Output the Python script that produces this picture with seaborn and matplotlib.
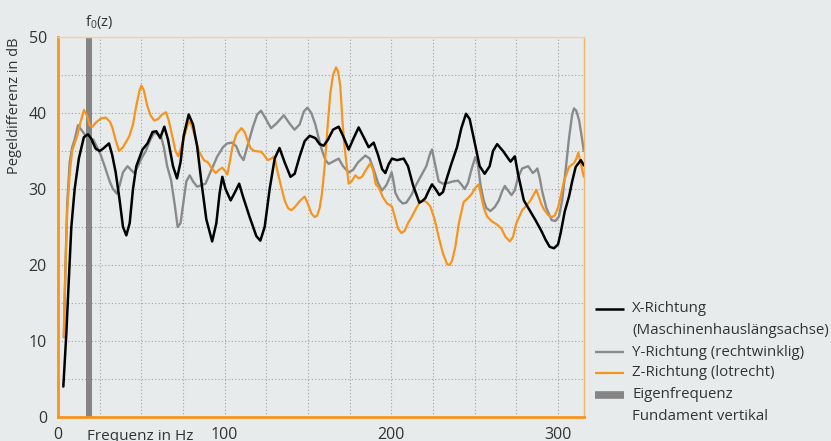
import matplotlib
matplotlib.use("Agg")
import matplotlib.pyplot as plt
from matplotlib.lines import Line2D
import numpy as np
import pandas as pd
import seaborn as sns

# Frequency axis values (Hz) and level differences (dB)
x_freq = [3.2, 5, 6.2, 8, 10, 12.5, 15.5, 18, 20, 22.6, 25, 27, 30.6, 32.5, 34.6, 37, 39, 41, 43, 45,
          47, 50.7, 53.7, 56.7, 59, 61.3, 63.8, 66, 69, 71.4, 73.5, 75.4, 78.4, 81, 83.5, 86, 89, 92.5,
          95, 97, 98.6, 100.5, 103.6, 106, 108.7, 111, 115, 119, 121.4, 124, 127, 130, 132.9, 136,
          139.5, 142, 145, 148, 151, 154.4, 157, 159.4, 162, 165, 168.4, 171, 174.4, 177, 180.4, 183,
          186.4, 189.4, 192, 194.5, 196.4, 198.5, 200.4, 203.4, 207.4, 210, 213, 216.8, 218.5, 220.4,
          222.5, 224.4, 226.5, 228.8, 231, 233, 236, 239.4, 242, 244.8, 247, 250.4, 253, 256, 259, 261,
          263.5, 267, 271.5, 274.1, 276, 279.5, 283, 286.5, 290, 292.6, 295, 297.6, 300, 301.6, 304,
          306.6, 308.5, 310.6, 313.7, 315.5]
x_db = [4, 11, 16.7, 25, 30, 34, 36.8, 37.2, 36.6, 35.3, 35.0, 35.3, 36.0, 34.5, 32.2, 28.5, 25, 23.9,
        25.5, 30, 33, 35.2, 36, 37.5, 37.6, 36.7, 38.2, 36.5, 33, 31.4, 33.5, 37, 39.8, 38.5, 35.6, 31,
        26, 23.1, 25.5, 29.5, 31.6, 30, 28.5, 29.5, 30.7, 29, 26.3, 23.8, 23.2, 25, 30, 34, 35.4, 33.5,
        31.6, 32, 34.3, 36.3, 37, 36.7, 35.9, 35.7, 36.5, 37.8, 38.2, 37, 35.2, 36.5, 38.1, 37, 35.5,
        36.1, 34.5, 32.6, 32.1, 33.3, 34, 33.8, 34, 33, 30.5, 28.2, 28.4, 28.8, 29.8, 30.6, 30, 29.2,
        29.6, 31.2, 33.3, 35.5, 38, 39.9, 39.2, 35.7, 33, 32, 33, 35, 35.9, 35, 33.6, 34.3, 32, 28.5,
        27.2, 25.9, 24.5, 23.3, 22.4, 22.2, 22.7, 24.2, 27, 29, 31, 32.9, 33.8, 33.1]

y_freq = [3.5, 4.5, 5.5, 7, 8.5, 10, 12, 14, 16.6, 19, 21.2, 23, 25.6, 28, 31, 33, 35.2, 37, 39, 41.7,
          43.5, 45.7, 48, 50.5, 52.7, 55, 57.7, 60, 61.7, 63.5, 65.5, 67.8, 70, 71.8, 73.5, 75.4, 77,
          79, 81, 83.5, 86, 88.5, 91, 95.6, 99, 101.5, 104.6, 107, 109, 111.3, 113.5, 117, 119.5, 121.8,
          124, 127.8, 131, 135.5, 139, 141.9, 145, 147.5, 149.6, 152, 154.4, 156.5, 158.5, 160.5, 162.4,
          165, 168.4, 171, 174.4, 177, 180, 184.4, 187, 189.5, 192, 194.4, 197, 199, 200.2, 201.3, 202.4,
          204.5, 206.8, 209, 212, 215, 218, 221, 223, 224.4, 226, 228.4, 231, 234, 237, 240, 242, 244,
          246, 248, 250.4, 252, 253.5, 255.4, 257, 259.4, 262, 264.5, 266.5, 268.1, 270, 272.1, 274, 276,
          278.5, 282.1, 284.9, 286.5, 287.6, 289, 290.6, 293, 296.2, 298.5, 300.6, 302.5, 304.6, 306.5,
          308.5, 309.6, 311, 312.7, 314.5, 315.5]
y_db = [10.5, 20, 28, 33.5, 35.5, 36.5, 38.4, 37.8, 37, 36.6, 36.5, 35.7, 34.5, 33, 31, 30, 29.4, 30.5,
        32.2, 33, 32.6, 32.1, 33, 34.2, 35, 36.3, 37.4, 37.2, 37, 35.5, 33, 31.2, 28, 25, 25.5, 28.5, 31,
        31.8, 31, 30.3, 30.5, 30.7, 32, 34.3, 35.5, 36, 36.1, 35.6, 34.5, 33.8, 35.5, 38.2, 39.8, 40.3,
        39.5, 38, 38.6, 39.7, 38.6, 37.8, 38.5, 40.2, 40.7, 40, 38.5, 36.6, 35, 33.8, 33.3, 33.6, 34, 33,
        32.2, 32.5, 33.5, 34.4, 34, 32.5, 30.8, 29.8, 30.5, 31.5, 32.2, 31, 29.5, 28.6, 28.1, 28.2, 29.2,
        30.6, 31.8, 33, 34.5, 35.2, 33.5, 31, 30.7, 30.8, 31, 31.1, 30.6, 30, 30.8, 32.5, 34.2, 33.2,
        30.5, 28.5, 27.5, 27.1, 27.6, 28.5, 29.7, 30.4, 29.8, 29.2, 29.8, 31.5, 32.7, 33, 32.1, 32.4,
        32.7, 31.5, 29.6, 27.5, 25.9, 25.8, 26.4, 28.5, 32.5, 36.5, 39.8, 40.6, 40.3, 39, 36.5, 35]

z_freq = [3.5, 4, 4.8, 5.5, 7, 8.5, 11.5, 13.5, 15.6, 17.5, 19, 20.6, 23, 26, 28.6, 31, 32.6, 34.5, 36.6,
          39, 42.7, 45, 47, 49, 50, 51.5, 53.5, 55.5, 57.7, 60, 62.5, 64.8, 66.5, 68.5, 70.5, 72.2, 74,
          75.4, 78.4, 80, 82, 84.5, 87.5, 90, 92, 94.6, 96.5, 98.6, 100.5, 101.6, 103, 104.6, 107, 110,
          112, 114, 115.7, 118, 121.8, 123.5, 125.8, 128, 129.8, 131.5, 133.9, 136, 138, 139.9, 142, 145,
          148, 150, 152, 154, 155.5, 157, 158.4, 160, 161.5, 163.4, 165, 166.8, 168, 169.4, 170.5, 171.5,
          172.4, 174.4, 176.2, 178.4, 180.4, 182.4, 185, 187.4, 189, 190.7, 192.4, 195, 197.4, 200.4,
          202.5, 204, 206, 208, 210, 212.4, 215, 217.5, 219.4, 221.5, 223.4, 226, 228.4, 231, 233.5, 235,
          236.5, 238.4, 240.5, 243.4, 246, 248.4, 250.5, 252.4, 254, 255.5, 257.4, 260, 263.5, 266, 268.5,
          271.1, 273, 275, 278.5, 281, 283.5, 285.5, 287, 288.5, 290, 291.6, 294, 296.2, 298, 300, 301.6,
          303.5, 306.6, 309.6, 311, 312.2, 313.5, 315.5]
z_db = [10.5, 16, 22, 27, 32, 35, 37, 38.8, 40.4, 39.6, 38.4, 38.2, 38.8, 39.3, 39.4, 38.9, 38.1, 36.5,
        35.0, 35.5, 36.9, 38.5, 41, 43, 43.6, 43, 41, 39.7, 39, 39.2, 39.8, 40.1, 39, 37, 35, 34.3, 35.5,
        36.6, 38.9, 38.5, 37, 35, 33.8, 33.5, 32.8, 32.1, 32.5, 32.8, 32.3, 31.9, 33.5, 35.5, 37.2, 38,
        37.5, 36.2, 35.3, 35, 34.9, 34.5, 33.8, 34, 34.3, 32.5, 30.3, 28.5, 27.5, 27.2, 27.6, 28.4, 29,
        28, 26.8, 26.3, 26.5, 27.5, 29.4, 33, 37.5, 42.6, 45, 46, 45.5, 43.5, 39.5, 36.5, 34.7, 30.7, 31,
        31.8, 31.4, 31.6, 32.6, 33.4, 32.5, 30.6, 30.2, 28.9, 28.1, 27.7, 26, 24.8, 24.2, 24.5, 25.5,
        26.4, 27.5, 28.4, 28.5, 28.2, 27.7, 26, 23.7, 21.5, 20.1, 20, 20.6, 22.4, 25.5, 28.3, 28.8, 29.4,
        30.2, 30.6, 29, 27.5, 26.4, 25.8, 25.3, 24.8, 23.7, 23.1, 23.7, 25.5, 27.2, 27.8, 28.5, 29.3,
        29.9, 29, 28, 27.3, 26.6, 26.3, 26.5, 27.5, 29, 31, 32.9, 33.4, 34, 34.8, 33.5, 31.6]

f0_band = (16.8, 20.4)  # Eigenfrequenz Fundament vertikal

legend_labels = ["X-Richtung", "(Maschinenhauslängsachse)", "Y-Richtung (rechtwinklig)",
                 "Z-Richtung (lotrecht)", "Eigenfrequenz", "Fundament vertikal"]

bg = "#e8ebec"
orange = "#f7941d"
grey = "#8a8a8a"

sns.set_style("white")
plt.rcParams["font.family"] = ["Open Sans", "DejaVu Sans"]
plt.rcParams["mathtext.default"] = "regular"

fig = plt.figure(figsize=(8.31, 4.41), dpi=100, facecolor=bg)
ax = fig.add_axes([58 / 831, 1 - 417 / 441, 526 / 831, 380 / 441])
ax.set_facecolor(bg)

# dotted grid
for gx in range(25, 301, 25):
    ax.axvline(gx, color="#a3a3a3", lw=0.8, ls=(0, (1, 2)), zorder=0.5)
for gy in range(5, 50, 5):
    ax.axhline(gy, color="#a3a3a3", lw=0.8, ls=(0, (1, 2)), zorder=0.5)

ax.axvspan(*f0_band, color="#858585", lw=0, zorder=1)

sns.lineplot(x=y_freq, y=y_db, color=grey, lw=1.7, sort=False, ax=ax, zorder=2)
sns.lineplot(x=z_freq, y=z_db, color=orange, lw=1.6, sort=False, ax=ax, zorder=3)
sns.lineplot(x=x_freq, y=x_db, color="black", lw=1.8, sort=False, ax=ax, zorder=4)

ax.set_xlim(0, 315.6)
ax.set_ylim(0, 50)
ax.set_xticks([0, 100, 200, 300])
ax.set_yticks([0, 10, 20, 30, 40, 50])
ax.tick_params(length=0, labelsize=11.5, colors="#333333")
ax.tick_params(axis="x", pad=7)
ax.tick_params(axis="y", pad=8)
ax.set_xlabel("")
ax.set_ylabel("")

for side in ["left", "bottom"]:
    ax.spines[side].set_color(orange)
    ax.spines[side].set_linewidth(2)
ax.spines["top"].set_color("#f2cfa8")
ax.spines["top"].set_linewidth(1)
ax.spines["right"].set_color("#f5b56a")
ax.spines["right"].set_linewidth(1)

ax.text(0.156, -0.05, "Frequenz in Hz", transform=ax.transAxes, ha="center", va="center",
        fontsize=11, color="#333333")
fig.text(15 / 831, 1 - 37 / 441, "Pegeldifferenz in dB", rotation=90, ha="center", va="top",
         fontsize=10.5, color="#333333")
ax.text(f0_band[0] - 0.5, 1.04, "f$_0$(z)", transform=ax.get_xaxis_transform(), ha="left",
        va="center", fontsize=10.5, color="#333333")

# legend drawn by hand so that handles align with the first text line
handles = [("black", 1.8, 0), (grey, 1.7, 2), (orange, 1.6, 3), ("#858585", 5.5, 4)]
row_y = [309, 331, 352, 373, 395, 416]
for col, lw, row in handles:
    yy = 1 - row_y[row] / 441
    fig.add_artist(Line2D([595 / 831, 624 / 831], [yy, yy], color=col, lw=lw,
                          solid_capstyle="butt", transform=fig.transFigure))
for lab, ry in zip(legend_labels, row_y):
    fig.text(632 / 831, 1 - ry / 441, lab, ha="left", va="center", fontsize=10.8, color="#333333")

fig.savefig("out.png", dpi=100, facecolor=bg)
